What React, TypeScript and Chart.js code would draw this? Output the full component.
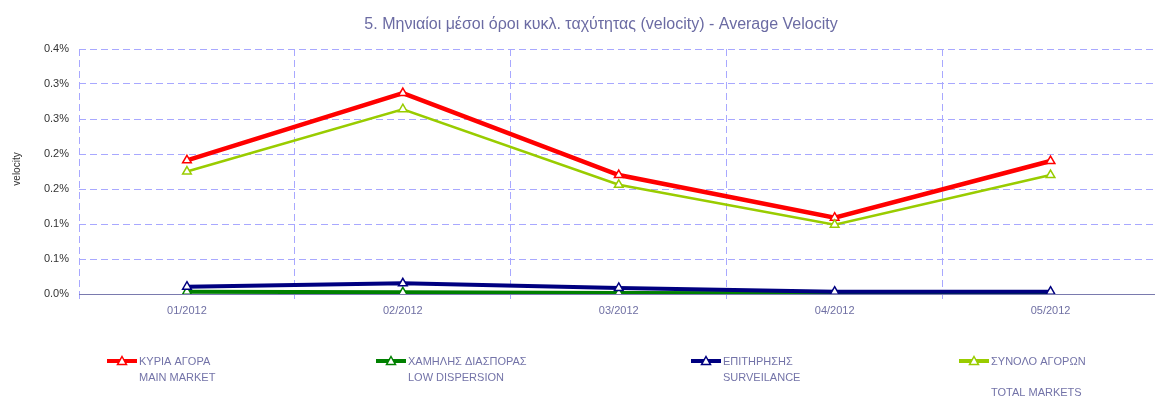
import React, { useEffect, useRef } from "react";
import { Chart, registerables } from "chart.js";

Chart.register(...registerables);

const months = ["01/2012", "02/2012", "03/2012", "04/2012", "05/2012"];
const mainMarket = [0.191, 0.287, 0.17, 0.109, 0.19];
const lowDispersion = [0.0033, 0.0024, 0.0014, 0.001, 0.0014];
const surveillance = [0.0104, 0.0153, 0.0086, 0.0033, 0.0033];
const totalMarkets = [0.175, 0.264, 0.156, 0.099, 0.17];
const yTickLabels = ["0.0%", "0.1%", "0.1%", "0.2%", "0.2%", "0.3%", "0.3%", "0.4%"];
const seriesLines = [
  ["ΚΥΡΙΑ ΑΓΟΡΑ", "MAIN MARKET"],
  ["ΧΑΜΗΛΗΣ ΔΙΑΣΠΟΡΑΣ", "LOW DISPERSION"],
  ["ΕΠΙΤΗΡΗΣΗΣ", "SURVEILANCE"],
  ["ΣΥΝΟΛΟ ΑΓΟΡΩΝ", "", "TOTAL MARKETS"],
];
const titleText = "5. Μηνιαίοι μέσοι όροι κυκλ. ταχύτητας (velocity) - Average Velocity";
const yTitle = "velocity";

const FONT = "'Liberation Sans', Arial, sans-serif";
const GRID = "#a8a8ff";
const legendX = [107, 376, 691, 959];

const overlay = {
  id: "overlay",
  afterDraw(chart: any) {
    const ctx = chart.ctx;
    ctx.save();
    ctx.fillStyle = "#6b6ba3";
    ctx.font = `16px ${FONT}`;
    ctx.textAlign = "center";
    ctx.textBaseline = "middle";
    ctx.fillText(titleText, 601, 25);
    ctx.save();
    ctx.translate(17, 169);
    ctx.rotate(-Math.PI / 2);
    ctx.fillStyle = "#333333";
    ctx.font = `10px ${FONT}`;
    ctx.fillText(yTitle, 0, 0);
    ctx.restore();
    chart.data.datasets.forEach((ds: any, i: number) => {
      const x = legendX[i];
      const y = 361;
      ctx.strokeStyle = ds.borderColor;
      ctx.lineWidth = 4;
      ctx.beginPath();
      ctx.moveTo(x, y);
      ctx.lineTo(x + 30, y);
      ctx.stroke();
      const cx = x + 15;
      const r = 4.5;
      ctx.fillStyle = "#ffffff";
      ctx.lineWidth = 1.5;
      ctx.beginPath();
      ctx.moveTo(cx, y - r);
      ctx.lineTo(cx + r, y + r * 0.8);
      ctx.lineTo(cx - r, y + r * 0.8);
      ctx.closePath();
      ctx.fill();
      ctx.stroke();
      ctx.fillStyle = "#7373a8";
      ctx.font = `11px ${FONT}`;
      ctx.textAlign = "left";
      ctx.textBaseline = "middle";
      seriesLines[i].forEach((line, k) => {
        ctx.fillText(line, x + 32, y + 1 + k * 15.5);
      });
    });
    ctx.restore();
  },
};

export default function App() {
  const ref = useRef<HTMLCanvasElement>(null);
  useEffect(() => {
    if (!ref.current) return;
    const mk = (label: string, data: number[], color: string, width: number, order: number) => ({
      label,
      data,
      borderColor: color,
      backgroundColor: "#ffffff",
      borderWidth: width,
      pointStyle: "triangle",
      pointRadius: 5,
      pointBorderWidth: 1.5,
      pointBackgroundColor: "#ffffff",
      pointBorderColor: color,
      tension: 0,
      order,
    });
    const chart = new Chart(ref.current, {
      type: "line",
      data: {
        labels: months,
        datasets: [
          mk(seriesLines[0].join(" "), mainMarket, "#ff0000", 4.5, 4),
          mk(seriesLines[1].join(" "), lowDispersion, "#008000", 4, 3),
          mk(seriesLines[2].join(" "), surveillance, "#000080", 4, 2),
          mk(seriesLines[3].join(" "), totalMarkets, "#99cc00", 2.5, 1),
        ],
      },
      options: {
        animation: false,
        responsive: false,
        maintainAspectRatio: false,
        layout: { padding: { top: 49, bottom: 76, left: 0, right: 2 } },
        plugins: { legend: { display: false }, title: { display: false }, tooltip: { enabled: false } },
        scales: {
          x: {
            offset: true,
            afterFit: (s: any) => {
              s.height = 30;
            },
            grid: { offset: true, color: GRID, lineWidth: 1, tickLength: 5, drawTicks: true },
            border: { display: true, color: "#7a7aae", width: 1, dash: [7, 4] },
            ticks: { color: "#6f6fa3", font: { family: FONT, size: 11 }, padding: 5, maxRotation: 0 },
          },
          y: {
            min: 0,
            max: 0.35,
            afterFit: (s: any) => {
              s.width = 79;
            },
            ticks: {
              stepSize: 0.05,
              color: "#333333",
              font: { family: FONT, size: 11 },
              padding: 10,
              callback: (_v: any, i: number) => yTickLabels[i],
            },
            grid: { color: () => GRID, lineWidth: 1, drawTicks: false },
            border: { display: false, color: GRID, dash: [7, 4] },
          },
        },
      },
      plugins: [overlay],
    } as any);
    return () => chart.destroy();
  }, []);
  return (
    <div style={{ position: "absolute", left: 0, top: 0, width: 1155, height: 400, overflow: "hidden", background: "#fff" }}>
      <canvas ref={ref} width={1165} height={400} style={{ width: 1165, height: 400, display: "block" }} />
    </div>
  );
}
